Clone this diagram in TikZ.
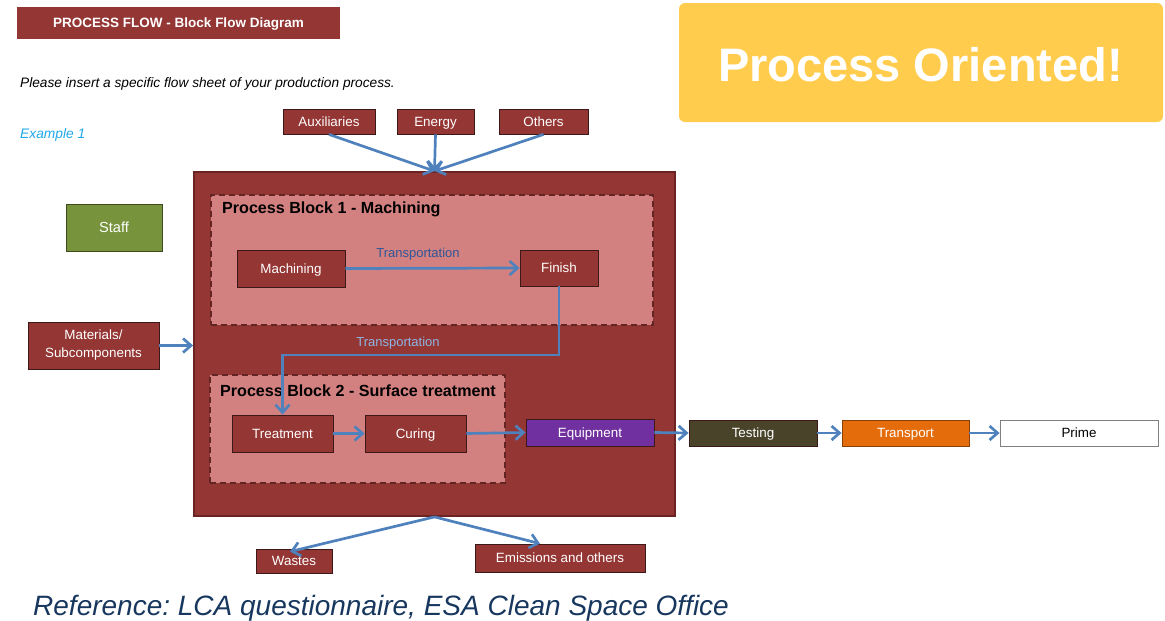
\documentclass[tikz,border=0pt]{standalone}
\usepackage{fontspec}
\setmainfont{Liberation Sans}
\usetikzlibrary{arrows.meta,calc}
\definecolor{dred}{HTML}{943634}
\definecolor{dredb}{HTML}{6B2423}
\definecolor{boxb}{HTML}{3D1818}
\definecolor{pinkf}{HTML}{D38180}
\definecolor{dashc}{HTML}{632523}
\definecolor{yell}{HTML}{FFCC4E}
\definecolor{olive}{HTML}{77933C}
\definecolor{purp}{HTML}{7030A0}
\definecolor{testc}{HTML}{494429}
\definecolor{orng}{HTML}{E46C0A}
\definecolor{arrc}{HTML}{4F81BD}
\definecolor{lblA}{HTML}{2F5597}
\definecolor{lblB}{HTML}{8EB4E3}
\definecolor{exc}{HTML}{1FA8E8}
\definecolor{refc}{HTML}{17375E}
\frenchspacing
\tikzset{
  fbox/.style={draw=boxb, line width=0.8pt, fill=dred, text=white, inner sep=0pt,
    font=\fontsize{13.4}{15}\selectfont, align=center, text height=9.6pt, text depth=0pt},
  blockbox/.style={draw=dashc, fill=pinkf, line width=2pt, dash pattern=on 6pt off 4pt, inner sep=0pt},
  arr/.style={draw=arrc, line width=2.7pt, -{Straight Barb[length=8pt,width=14pt,line width=2.7pt]}},
  lbl/.style={font=\fontsize{13}{14}\selectfont, inner sep=0pt, text height=9.3pt, text depth=0pt},
  btitle/.style={font=\fontsize{16.1}{18}\selectfont\bfseries, anchor=west, inner sep=0pt}
}
\begin{document}
\begin{tikzpicture}[x=1pt,y=-1pt]
\useasboundingbox (0,0) rectangle (1165,621);
% header
\node[fill=dred, minimum width=323pt, minimum height=32pt, inner sep=0pt, text=white,
  text height=9.7pt, text depth=0pt,
  font=\fontsize{13.5}{15}\selectfont\bfseries] (hdr) at (178.5,23) {PROCESS FLOW - Block Flow Diagram};
\node[anchor=base west, inner sep=0pt, font=\fontsize{13.7}{15}\selectfont\itshape] (ins) at (20,87)
  {Please insert a specific flow sheet of your production process.};
\node[anchor=base west, inner sep=0pt, text=exc, font=\fontsize{13.8}{15}\selectfont\itshape] (ex) at (20,138) {Example 1};
% yellow box
\node[fill=yell, rounded corners=6pt, minimum width=484pt, minimum height=119pt, inner sep=0pt,
  text=white, text height=33.7pt, text depth=0pt, font=\fontsize{47}{50}\selectfont\bfseries] (po) at (921,62.5) {};
\node[inner sep=0pt, text=white, text height=33.7pt, text depth=0pt,
  font=\fontsize{47}{50}\selectfont\bfseries] (pot) at (920.5,65) {Process Oriented!};
% inputs
\node[fbox, minimum width=92pt, minimum height=25pt] (aux) at (329,121.5) {Auxiliaries};
\node[fbox, minimum width=77pt, minimum height=25pt] (ene) at (435.5,121.5) {Energy};
\node[fbox, minimum width=89pt, minimum height=25pt] (oth) at (543.5,121.5) {Others};
% main box
\node[draw=dredb, fill=dred, line width=1.8pt, minimum width=481pt, minimum height=344pt, inner sep=0pt] (main) at (434.5,344) {};
% block 1
\node[blockbox, minimum width=442pt, minimum height=130pt] (b1) at (432,260) {};
\node[btitle] (b1t) at (222,209) {Process Block 1 - Machining};
\node[fbox, minimum width=108pt, minimum height=37pt] (mac) at (291,268.5) {Machining};
\node[fbox, minimum width=78pt, minimum height=36pt] (fin) at (559,268) {Finish};
\node[lbl, text=lblA] (t1) at (418,253) {Transportation};
% block 2
\node[blockbox, minimum width=295pt, minimum height=108pt] (b2) at (357.5,429) {};
\node[btitle] (b2t) at (220,391) {Process Block 2 - Surface treatment};
\node[fbox, minimum width=101pt, minimum height=37pt] (trt) at (282.5,433.5) {Treatment};
\node[fbox, minimum width=101pt, minimum height=37pt] (cur) at (415.5,433.5) {Curing};
\node[lbl, text=lblB] (t2) at (398,342) {Transportation};
% outputs chain
\node[fbox, fill=purp, minimum width=128pt, minimum height=27pt] (eqp) at (590,432.5) {Equipment};
\node[fbox, fill=testc, minimum width=128pt, minimum height=26pt] (tst) at (753,433) {Testing};
\node[fbox, fill=orng, draw=orng!60!black, minimum width=127pt, minimum height=26pt] (trn) at (905.5,433) {Transport};
\node[fbox, fill=white, draw=gray, text=black, minimum width=158pt, minimum height=26pt] (prm) at (1079,433) {Prime};
% side boxes
\node[fbox, fill=olive, draw=olive!50!black, minimum width=96pt, minimum height=47pt,
  font=\fontsize{14.6}{16}\selectfont, text height=10.4pt] (stf) at (114,227.5) {Staff};
\node[fbox, minimum width=131pt, minimum height=47pt, text height=, text depth=,
  font=\fontsize{13.4}{18}\selectfont] (mat) at (93.5,345.5) {Materials/\\Subcomponents};
% waste boxes
\node[fbox, minimum width=76pt, minimum height=24pt] (wst) at (294,561) {Wastes};
\node[fbox, minimum width=170pt, minimum height=28pt] (ems) at (560,558) {Emissions and others};
% reference
\node[anchor=base west, inner sep=0pt, text=refc, font=\fontsize{28}{30}\selectfont\itshape] (ref) at (33,615)
  {Reference: LCA questionnaire, ESA Clean Space Office};
% arrows
\draw[arr] (aux.south) -- (main.north);
\draw[arr] (ene.south) -- (main.north);
\draw[arr] (oth.south) -- (main.north);
\draw[arr] (mat.east) -- (mat.east -| main.west);
\draw[arr] (mac.east) -- (fin.west);
\coordinate (bend) at (0,355);
\draw[arr] (fin.south) -- (fin.south |- bend) -- (trt.north |- bend) -- (trt.north);
\draw[arr] (trt.east) -- (cur.west);
\draw[arr] (cur.east) -- (eqp.west);
\draw[arr] (eqp.east) -- (tst.west);
\draw[arr] (tst.east) -- (trn.west);
\draw[arr] (trn.east) -- (prm.west);
\draw[arr] (main.south) -- ([xshift=-4pt,yshift=-3pt]wst.north);
\draw[arr] (main.south) -- ([xshift=-20pt]ems.north);
\end{tikzpicture}
\end{document}
